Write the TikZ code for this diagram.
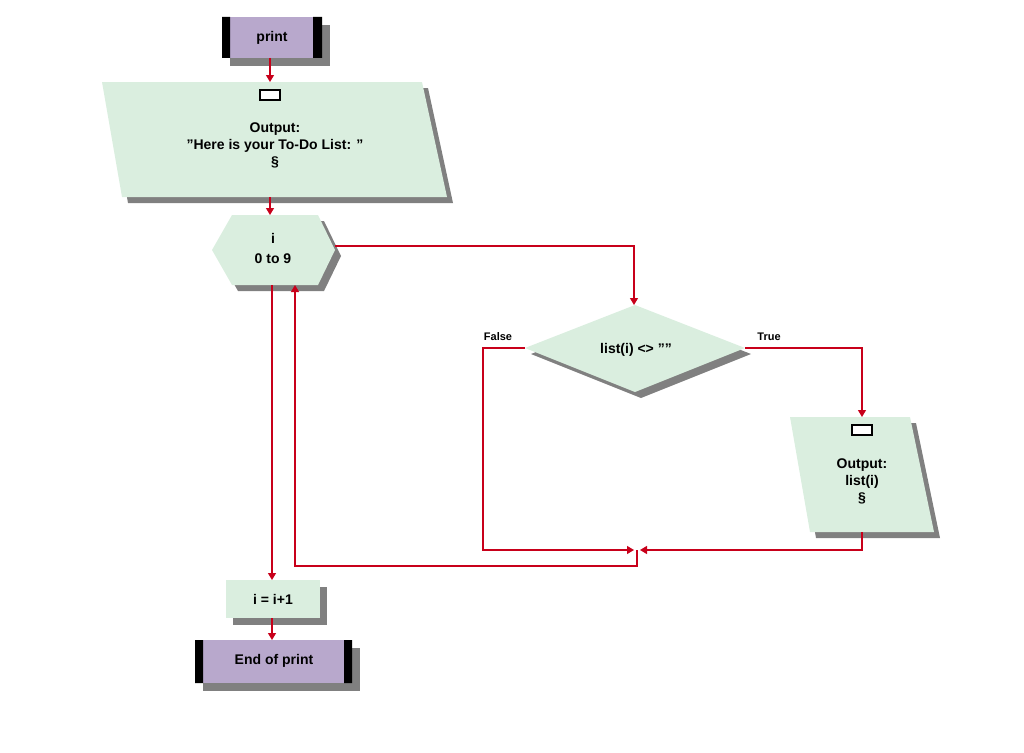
\documentclass[tikz,border=0pt]{standalone}
\usepackage{fontspec}
\setmainfont{Liberation Sans}
\definecolor{gr}{HTML}{DAEEDF}
\definecolor{pu}{HTML}{B8A8CC}
\definecolor{rd}{HTML}{C8001A}
\definecolor{sh}{HTML}{808080}
\usetikzlibrary{arrows.meta}
\tikzset{x=1pt,y=-1pt,
 txt/.style={font=\bfseries\fontsize{14}{17}\selectfont,align=center,inner sep=0},
 lbl/.style={font=\bfseries\fontsize{11}{13}\selectfont,inner sep=0},
 con/.style={rd,line width=1.3pt},
 arr/.style={con,-{Triangle[length=7pt,width=8pt]}},
 smallbox/.style={draw=black,fill=white,line width=1.3pt,minimum width=20pt,minimum height=10pt,inner sep=0}}
\begin{document}
\begin{tikzpicture}
\useasboundingbox (0,0) rectangle (1024,752);
% print
\fill[sh] (230,25) rectangle (330,66);
\fill[pu] (222,17) rectangle (322,58);
\fill[black] (222,17) rectangle (230,58) (313,17) rectangle (322,58);
\node[txt] (print) at (272,38) {print};
\coordinate (pb) at (270,58);
% output 1
\fill[sh] (108,88) -- (428,88) -- (453,203) -- (128,203) -- cycle;
\fill[gr] (102,82) -- (422,82) -- (447,197) -- (122,197) -- cycle;
\coordinate (o1t) at (270,82); \coordinate (o1b) at (270,197);
\node[smallbox] (sb1) at (270,95) {};
\node[txt] (o1) at (275,145) {Output:\\"Here is your To-Do List: "\\§};
% hexagon
\fill[sh] (218,256) -- (238,221) -- (324,221) -- (341,256) -- (324,291) -- (238,291) -- cycle;
\fill[gr] (212,250) -- (232,215) -- (318,215) -- (335,250) -- (318,285) -- (232,285) -- cycle;
\node[txt] (hex) at (273,248) {i\\[3pt]0 to 9};
\coordinate (hr) at (335,246);
\coordinate (hbl) at (272,285); \coordinate (hbr) at (295,285);
% diamond
\fill[sh] (531,354) -- (641,311) -- (751,354) -- (641,398) -- cycle;
\fill[gr] (525,348) -- (635,305) -- (745,348) -- (635,392) -- cycle;
\node[txt] (dec) at (636,350) {list(i) <> ""};
\coordinate (dt) at (634,305); \coordinate (dl) at (525,348); \coordinate (dr) at (745,348);
\node[lbl] (fl) at (498,337) {False};
\node[lbl] (tl) at (769,337) {True};
% output 2
\fill[sh] (796,423) -- (916,423) -- (940,538) -- (816,538) -- cycle;
\fill[gr] (790,417) -- (910,417) -- (934,532) -- (810,532) -- cycle;
\node[smallbox] (sb2) at (862,430) {};
\node[txt] (o2) at (862,481) {Output:\\list(i)\\§};
\coordinate (o2t) at (862,417); \coordinate (o2b) at (862,532);
% merge
\coordinate (ml) at (634,550); \coordinate (mr) at (640,550); \coordinate (mb) at (637,550);
% i=i+1
\fill[sh] (233,587) rectangle (327,625);
\fill[gr] (226,580) rectangle (320,618);
\node[txt] (inc) at (273,599) {i = i+1};
\coordinate (it) at (272,580); \coordinate (ib) at (272,618);
% end
\fill[sh] (203,648) rectangle (360,691);
\fill[pu] (195,640) rectangle (352,683);
\fill[black] (195,640) rectangle (203,683) (344,640) rectangle (352,683);
\node[txt] (end) at (274,661) {End of print};
\coordinate (et) at (272,640);
% connectors
\draw[arr] (pb) -- (o1t);
\draw[arr] (o1b) -- (270,215);
\draw[arr] (hr) -| (dt);
\draw[arr] (dl) -- (483,348) |- (ml);
\draw[arr] (dr) -| (o2t);
\draw[arr] (o2b) |- (mr);
\draw[arr] (mb) -- (637,566) -| (hbr);
\draw[arr] (hbl) -- (it);
\draw[arr] (ib) -- (et);
\end{tikzpicture}
\end{document}
